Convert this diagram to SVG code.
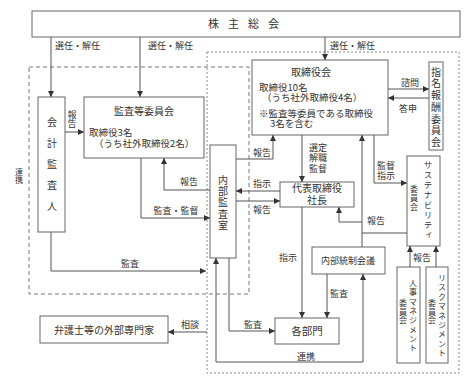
<svg xmlns="http://www.w3.org/2000/svg" width="473" height="383" viewBox="0 0 473 383">
<style>
text{font-family:"Noto Sans CJK JP","Noto Sans",sans-serif;fill:#333;font-size:10px}
.lb{font-size:9px}
.sm{font-size:9.5px}
.c{text-anchor:middle}
.v{writing-mode:vertical-rl}
.box{fill:#fff;stroke:#666;stroke-width:1}
.ln{fill:none;stroke:#555;stroke-width:1}
.ar{marker-end:url(#ah)}
.dash{fill:none;stroke:#777;stroke-width:1;stroke-dasharray:4,3}
.dot{fill:none;stroke:#888;stroke-width:1;stroke-dasharray:2,2}
</style>
<defs>
<marker id="ah" markerUnits="userSpaceOnUse" markerWidth="6" markerHeight="6" refX="6" refY="3" orient="auto">
<path d="M0,0 L6,3 L0,6 z" fill="#333"/>
</marker>
</defs>
<rect width="473" height="383" fill="#fff"/>
<g id="frames">
<rect class="dash" x="29" y="67" width="220" height="227"/>
<rect class="dot" x="207" y="52" width="252" height="321"/>
<text class="v" x="19" y="168" style="font-size:8px">連携</text>
</g>
<g id="shareholders"><rect class="box" x="32" y="11" width="428" height="26"/><text x="208" y="28" style="font-size:11px;letter-spacing:9px">株主総会</text></g>
<g id="auditor"><rect class="box" x="38" y="97" width="27" height="135"/><text class="v" x="52" y="117" style="letter-spacing:11px">会計監査人</text></g>
<g id="audit-committee"><rect class="box" x="84" y="97" width="120" height="61"/><text class="c" x="144" y="115">監査等委員会</text><text class="sm" x="89" y="136">取締役3名</text><text class="sm" x="94" y="147">（うち社外取締役2名）</text></g>
<g id="internal-audit"><rect class="box" x="210" y="145" width="26" height="113"/><text class="v" x="223" y="175" style="letter-spacing:1.25px">内部監査室</text></g>
<g id="board"><rect class="box" x="252" y="60" width="136" height="75"/><text class="c" x="311" y="76">取締役会</text><text class="sm" x="259" y="91">取締役10名</text><text class="sm" x="262" y="101">（うち社外取締役4名）</text><text class="sm" x="259" y="117">※監査等委員である取締役</text><text class="sm" x="270" y="127">3名を含む</text></g>
<g id="nomination"><rect class="box" x="429" y="62" width="14" height="88"/><text class="v" x="436" y="67" style="letter-spacing:1.7px">指名報酬委員会</text></g>
<g id="ceo"><rect class="box" x="280" y="182" width="74" height="25"/><text class="c" x="317" y="192">代表取締役</text><text class="c" x="317" y="204">社長</text></g>
<g id="sustainability"><rect class="box" x="407" y="156" width="33" height="90"/><text class="v" x="428" y="161" style="font-size:8.5px;letter-spacing:1.5px">サステナビリティ</text><text class="v" x="414" y="185" style="font-size:8px;letter-spacing:1px">委員会</text></g>
<g id="internal-control"><rect class="box" x="312" y="247" width="73" height="27"/><text class="c" x="348" y="264" style="font-size:9px">内部統制会議</text></g>
<g id="departments"><rect class="box" x="275" y="318" width="64" height="26"/><text class="c" x="307" y="335" style="font-size:10.5px">各部門</text></g>
<g id="experts"><rect class="box" x="40" y="316" width="128" height="27"/><text class="c" x="104" y="334">弁護士等の外部専門家</text></g>
<g id="hr"><rect class="box" x="397" y="267" width="23" height="96"/><text class="v" x="413" y="279" style="font-size:8px;letter-spacing:1.3px">人事マネジメント</text><text class="v" x="403" y="299" style="font-size:8px;letter-spacing:0.5px">委員会</text></g>
<g id="risk"><rect class="box" x="426" y="267" width="22" height="96"/><text class="v" x="442" y="274" style="font-size:8px;letter-spacing:1.4px">リスクマネジメント</text><text class="v" x="432" y="299" style="font-size:8px;letter-spacing:0.5px">委員会</text></g>
<g id="connectors">
<path class="ln ar" d="M51,37 V97"/>
<path class="ln ar" d="M140,37 V97"/>
<path class="ln ar" d="M325,37 V60"/>
<path class="ln ar" d="M65,132 H84"/>
<path class="ln ar" d="M141,158 V218 H210"/>
<path class="ln ar" d="M210,190 H164 V158"/>
<path class="ln ar" d="M51,232 V271 H206"/>
<path class="ln ar" d="M207,332 H168"/>
<path class="ln ar" d="M388,89 H429"/>
<path class="ln ar" d="M429,98 H388"/>
<path class="ln ar" d="M302,135 V182"/>
<path class="ln ar" d="M236,159 H273 V135"/>
<path class="ln ar" d="M280,191 H236"/>
<path class="ln ar" d="M236,201 H280"/>
<path class="ln ar" d="M374,135 V183 H407"/>
<path class="ln ar" d="M362,247 V135"/>
<path class="ln" d="M407,233 H362"/>
<path class="ln ar" d="M362,222 H339 V207"/>
<path class="ln ar" d="M302,207 V318"/>
<path class="ln ar" d="M327,274 V318"/>
<path class="ln ar" d="M229,258 V331 H275"/>
<path class="ln ar" d="M290,362 H216 V258"/>
<path class="ln ar" d="M290,362 H363 V274"/>
<path class="ln ar" d="M410,267 V246"/>
<path class="ln ar" d="M436,267 V246"/>
<text class="lb" x="55" y="49">選任・解任</text>
<text class="lb" x="148" y="49">選任・解任</text>
<text class="lb" x="330" y="49">選任・解任</text>
<text class="lb v" x="72" y="110">報告</text>
<text class="lb c" x="176" y="214">監査・監督</text>
<text class="lb c" x="189" y="185">報告</text>
<text class="lb c" x="130" y="267">監査</text>
<text class="lb c" x="190" y="328">相談</text>
<text class="lb c" x="262" y="156">報告</text>
<text class="lb c" x="262" y="187">指示</text>
<text class="lb c" x="262" y="213">報告</text>
<text class="lb c" x="318" y="151">選定</text>
<text class="lb c" x="318" y="161">解職</text>
<text class="lb c" x="318" y="172">監督</text>
<text class="lb c" x="386" y="169">監督</text>
<text class="lb c" x="386" y="179">指示</text>
<text class="lb c" x="410" y="86">諮問</text>
<text class="lb c" x="408" y="112">答申</text>
<text class="lb c" x="376" y="224">報告</text>
<text class="lb c" x="288" y="261">指示</text>
<text class="lb c" x="339" y="297">監査</text>
<text class="lb c" x="253" y="328">監査</text>
<text class="lb c" x="306" y="360">連携</text>
<text class="lb c" x="422" y="261">報告</text>
</g>
</svg>
